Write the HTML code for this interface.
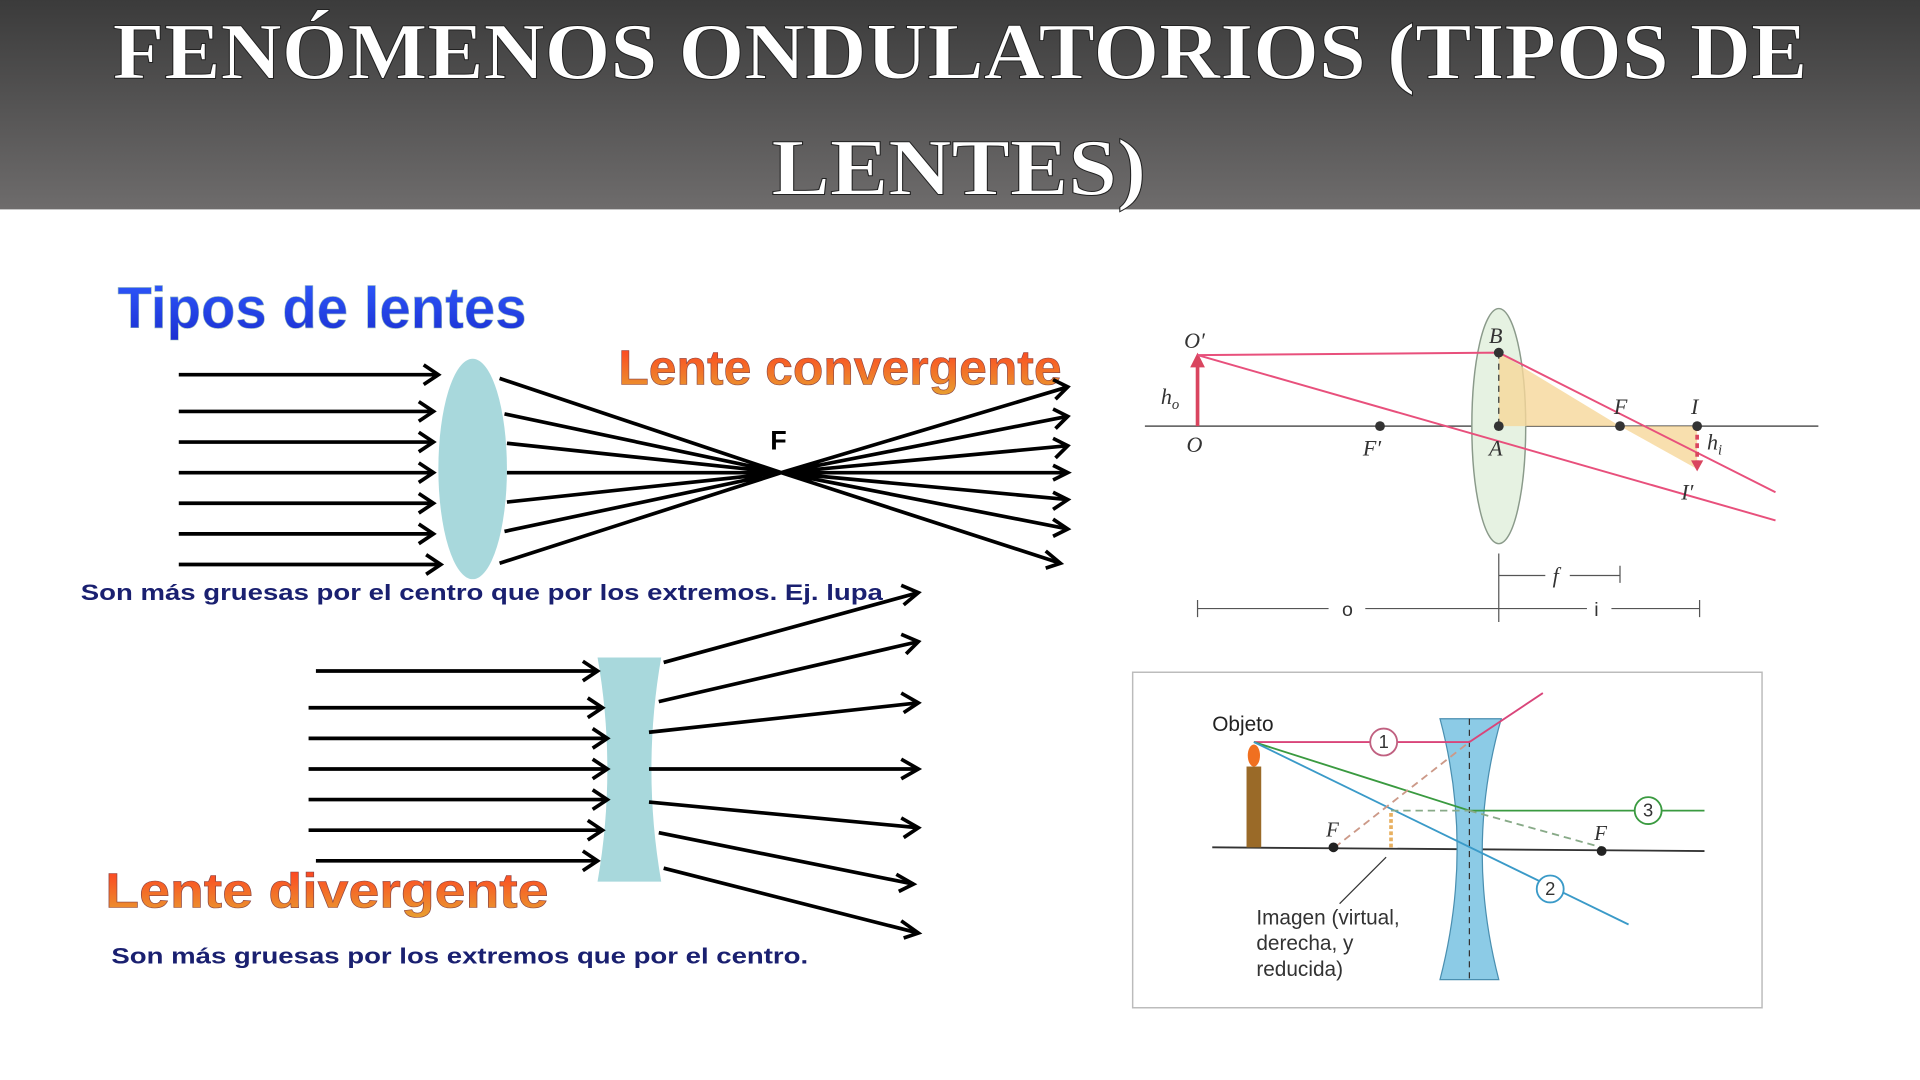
<!DOCTYPE html>
<html><head><meta charset="utf-8"><style>
html,body{margin:0;padding:0;width:1920px;height:1080px;overflow:hidden;background:#fff}
svg{display:block}
</style></head><body>
<svg width="1920" height="1080" viewBox="0 0 1568 882" xmlns="http://www.w3.org/2000/svg" font-family="Liberation Sans, sans-serif">
<defs>
<linearGradient id="hd" x1="0" y1="0" x2="0" y2="1"><stop offset="0" stop-color="#3b3b3b"/><stop offset="1" stop-color="#6e6c6c"/></linearGradient>
<linearGradient id="bl" x1="0" y1="0" x2="0" y2="1"><stop offset="0" stop-color="#2f5bff"/><stop offset="1" stop-color="#1a2fd0"/></linearGradient>
<linearGradient id="rd" x1="0" y1="0" x2="0" y2="1"><stop offset="0" stop-color="#ff3a20"/><stop offset="1" stop-color="#e8a030"/></linearGradient>
</defs>
<rect x="0" y="0" width="1568" height="171" fill="url(#hd)"/>
<g fill="#fff" font-family="Liberation Serif, serif" font-size="66" font-weight="bold" text-anchor="middle" stroke="#222" stroke-width="0.8">
<text x="784" y="64" textLength="1384" lengthAdjust="spacingAndGlyphs">FENÓMENOS ONDULATORIOS (TIPOS DE</text>
<text x="783" y="159" textLength="306" lengthAdjust="spacingAndGlyphs">LENTES)</text>
</g>
<text x="96" y="268" font-size="48" font-weight="bold" fill="url(#bl)" stroke="#9bb" stroke-width="0.5" textLength="334" lengthAdjust="spacingAndGlyphs">Tipos de lentes</text>
<text x="505" y="314" font-size="40" font-weight="bold" fill="url(#rd)" stroke="#844" stroke-width="0.5" textLength="362" lengthAdjust="spacingAndGlyphs">Lente convergente</text>
<text x="86" y="741" font-size="40" font-weight="bold" fill="url(#rd)" stroke="#844" stroke-width="0.5" textLength="362" lengthAdjust="spacingAndGlyphs">Lente divergente</text>
<text x="66" y="490" font-size="18" font-weight="bold" fill="#1a2070" textLength="655" lengthAdjust="spacingAndGlyphs">Son más gruesas por el centro que por los extremos. Ej. lupa</text>
<text x="91" y="787" font-size="18" font-weight="bold" fill="#1a2070" textLength="569" lengthAdjust="spacingAndGlyphs">Son más gruesas por los extremos que por el centro.</text>
<text x="629" y="367" font-size="22" font-weight="bold">F</text>
<!-- convergent -->
<ellipse cx="386" cy="383" rx="28" ry="90" fill="#a8d8dc"/>
<g stroke="#000" stroke-width="3" fill="none">
<path d="M146 306H358M146 336H354M146 361H354M146 386H354M146 411H354M146 436H354M146 461H360"/>
<path d="M346 298l12 8-12 8M342 328l12 8-12 8M342 353l12 8-12 8M342 378l12 8-12 8M342 403l12 8-12 8M342 428l12 8-12 8M348 453l12 8-12 8"/>
<path d="M408 309L638 386L872 316M412 338L638 386L872 340M414 362L638 386L872 364M414 386L872 386M414 410L638 386L872 408M412 434L638 386L872 432M408 460L638 386L866 460"/>
<path d="M860 310l12 6-10 10M860 334l12 6-10 10M860 358l12 6-10 10M860 380l12 6-12 6M860 402l12 6-12 8M860 424l12 8-12 6M854 450l12 10-12 4"/>
</g>
<!-- divergent -->
<path d="M488 537H540Q524 628 540 720H488Q504 628 488 537Z" fill="#a8d8dc"/>
<g stroke="#000" stroke-width="3" fill="none">
<path d="M258 548H488M252 578H492M252 603H496M252 628H496M252 653H496M252 678H492M258 703H488"/>
<path d="M476 540l12 8-12 8M480 570l12 8-12 8M484 595l12 8-12 8M484 620l12 8-12 8M484 645l12 8-12 8M480 670l12 8-12 8M476 695l12 8-12 8"/>
<path d="M542 541L750 484M538 573L750 524M530 598L750 574M530 628L750 628M530 655L750 676M538 680L746 722M542 709L750 762"/>
<path d="M736 478l14 6-12 10M736 518l14 6-10 10M736 566l14 8-12 8M736 620l14 8-14 8M736 668l14 8-12 8M732 714l14 8-12 6M736 752l14 10-12 4"/>
</g>
<!-- top right diagram -->
<line x1="935" y1="348" x2="1485" y2="348" stroke="#555" stroke-width="1.2"/>
<ellipse cx="1224" cy="348" rx="22" ry="96" fill="#e6f2e2" stroke="#8a9a8a" stroke-width="1.2"/>
<polygon points="1224,288 1224,348 1323,348" fill="#f6d79a" opacity="0.8"/>
<polygon points="1323,348 1386,348 1386,383" fill="#f6d79a" opacity="0.8"/>
<line x1="978" y1="348" x2="978" y2="294" stroke="#d9455f" stroke-width="3"/>
<path d="M972 300l6-12 6 12z" fill="#d9455f"/>
<g stroke="#e8507c" stroke-width="1.6" fill="none">
<path d="M978 290L1224 288L1450 402"/>
<path d="M978 290L1450 425"/>
</g>
<line x1="1386" y1="348" x2="1386" y2="380" stroke="#d9455f" stroke-width="3" stroke-dasharray="4 3"/>
<path d="M1381 376l5 9 5-9z" fill="#d9455f"/>
<line x1="1224" y1="288" x2="1224" y2="348" stroke="#333" stroke-dasharray="5 4"/>
<g fill="#333"><circle cx="1224" cy="288" r="4"/><circle cx="1224" cy="348" r="4"/><circle cx="1127" cy="348" r="4"/><circle cx="1323" cy="348" r="4"/><circle cx="1386" cy="348" r="4"/></g>
<g font-family="Liberation Serif, serif" font-style="italic" font-size="18" fill="#333">
<text x="967" y="284">O′</text><text x="969" y="369">O</text><text x="948" y="330">h<tspan font-size="12" dy="4">o</tspan></text>
<text x="1113" y="372">F′</text><text x="1216" y="280">B</text><text x="1216" y="372">A</text>
<text x="1318" y="338">F</text><text x="1381" y="338">I</text><text x="1394" y="367">h<tspan font-size="12" dy="4">i</tspan></text>
<text x="1373" y="408">I′</text><text x="1268" y="476">f</text>
</g>
<g stroke="#555" stroke-width="1" fill="none">
<path d="M978 490v14M1224 452v56M1388 490v14M1323 462v14"/>
<path d="M978 497H1085M1115 497H1224M1224 497H1296M1316 497H1388"/>
<path d="M1224 470H1262M1282 470H1323"/>
</g>
<text x="1096" y="503" font-size="16" fill="#333">o</text>
<text x="1302" y="503" font-size="16" fill="#333">i</text>
<!-- bottom right diagram -->
<rect x="925" y="549" width="514" height="274" fill="#fff" stroke="#bbb" stroke-width="1.2"/>
<line x1="990" y1="692" x2="1392" y2="695" stroke="#333" stroke-width="1.5"/>
<path d="M1176 587H1226Q1196 692 1224 800H1176Q1204 692 1176 587Z" fill="#8ccbe6" stroke="#4a8fb0"/>
<line x1="1200" y1="587" x2="1200" y2="800" stroke="#333" stroke-dasharray="5 4"/>
<rect x="1018" y="626" width="12" height="66" fill="#9a6a28"/>
<ellipse cx="1024" cy="617" rx="5" ry="9" fill="#f07020"/>
<text x="990" y="597" font-size="17" fill="#222">Objeto</text>
<g fill="none" stroke-width="1.5">
<path d="M1024 606H1200L1260 566" stroke="#d9457a"/>
<path d="M1024 606L1200 662H1392" stroke="#3a9a40"/>
<path d="M1024 606L1330 755" stroke="#3a9ac8"/>
<path d="M1090 692L1200 606" stroke="#c98" stroke-dasharray="6 4"/>
<path d="M1136 662H1200M1200 662L1308 692" stroke="#8a8" stroke-dasharray="6 4"/>
</g>
<line x1="1136" y1="692" x2="1136" y2="664" stroke="#e8b060" stroke-width="3" stroke-dasharray="3 2"/>
<line x1="1132" y1="700" x2="1094" y2="738" stroke="#333"/>
<g fill="#fff" stroke-width="1.5"><circle cx="1130" cy="606" r="11" stroke="#c06080"/><circle cx="1346" cy="662" r="11" stroke="#3a9a40"/><circle cx="1266" cy="726" r="11" stroke="#3a9ac8"/></g>
<g font-size="15" text-anchor="middle" fill="#333"><text x="1130" y="611">1</text><text x="1346" y="667">3</text><text x="1266" y="731">2</text></g>
<g fill="#222"><circle cx="1089" cy="692" r="4"/><circle cx="1308" cy="695" r="4"/></g>
<g font-family="Liberation Serif, serif" font-style="italic" font-size="17" fill="#333"><text x="1083" y="683">F</text><text x="1302" y="686">F</text></g>
<g font-size="17" fill="#333"><text x="1026" y="755">Imagen (virtual,</text><text x="1026" y="776">derecha, y</text><text x="1026" y="797">reducida)</text></g>
</svg>
</body></html>
